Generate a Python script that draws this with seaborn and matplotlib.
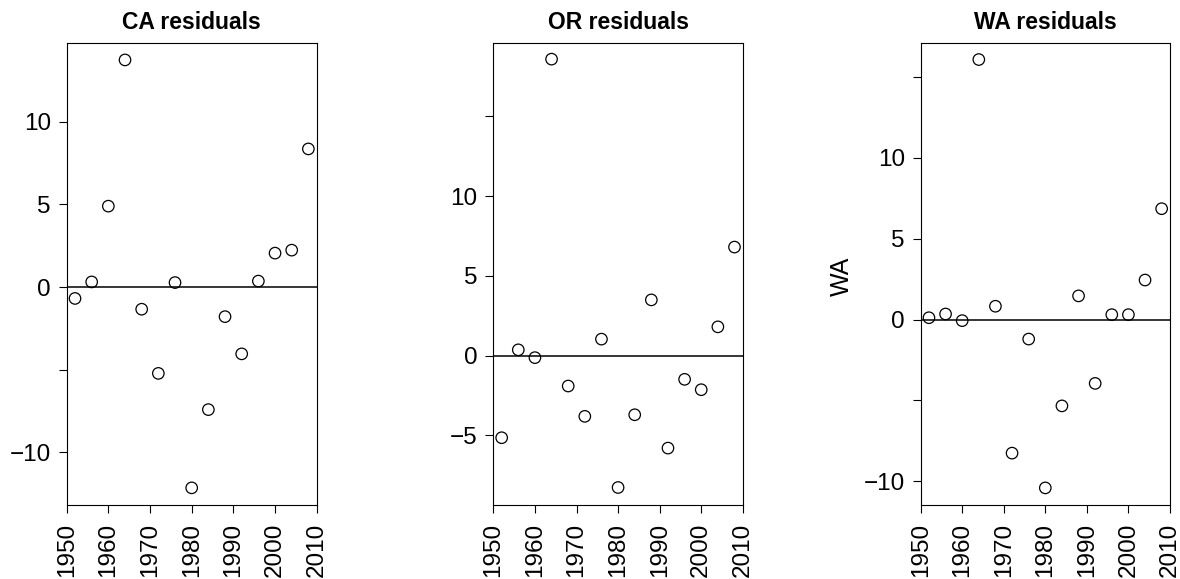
import numpy as np
import pandas as pd
import matplotlib
matplotlib.use("Agg")
import matplotlib.pyplot as plt
import seaborn as sns

# ---- data ----
years = [1952, 1956, 1960, 1964, 1968, 1972, 1976, 1980, 1984, 1988, 1992, 1996, 2000, 2004, 2008]
ca_resid = [-0.69, 0.31, 4.89, 13.73, -1.34, -5.22, 0.27, -12.14, -7.41, -1.79, -4.04, 0.36, 2.05, 2.23, 8.35]
or_resid = [-5.14, 0.37, -0.12, 18.59, -1.90, -3.80, 1.04, -8.26, -3.70, 3.50, -5.79, -1.48, -2.13, 1.81, 6.81]
wa_resid = [0.11, 0.34, -0.07, 16.07, 0.82, -8.26, -1.21, -10.41, -5.34, 1.46, -3.95, 0.30, 0.30, 2.44, 6.85]

titles = ["CA residuals", "OR residuals", "WA residuals"]
x_ticks = [1950, 1960, 1970, 1980, 1990, 2000, 2010]
ca_yticks = [-10, -5, 0, 5, 10]
ca_yticklabels = ["\u221210", "", "0", "5", "10"]
or_yticks = [-5, 0, 5, 10, 15]
or_yticklabels = ["\u22125", "0", "5", "10", ""]
wa_yticks = [-10, -5, 0, 5, 10, 15]
wa_yticklabels = ["\u221210", "", "0", "5", "10", ""]

sns.set_theme(style="ticks")
plt.rcParams["font.family"] = ["Liberation Sans", "DejaVu Sans"]

fig = plt.figure(figsize=(11.8, 5.79), dpi=100)
fig.patch.set_facecolor("white")

bottom, height = 0.128, 0.7985
lefts = [0.0565, 0.4181, 0.7802]
widths = [0.2119, 0.2114, 0.2113]
ylims = [(-13.17, 14.78), (-9.35, 19.63), (-11.46, 17.12)]
series = [ca_resid, or_resid, wa_resid]
yticks = [ca_yticks, or_yticks, wa_yticks]
yticklabels = [ca_yticklabels, or_yticklabels, wa_yticklabels]

for i in range(3):
    ax = fig.add_axes([lefts[i], bottom, widths[i], height])
    df = pd.DataFrame({"year": years, "resid": series[i]})
    sns.scatterplot(data=df, x="year", y="resid", ax=ax, marker="o", s=68,
                    facecolor="none", edgecolor="black", linewidth=0.9, color="black")
    for coll in ax.collections:
        coll.set_facecolor("none")
        coll.set_edgecolor("black")
    ax.axhline(0, color="black", lw=1.1)
    ax.set_xlim(1950, 2010)
    ax.set_ylim(*ylims[i])
    ax.set_xticks(x_ticks)
    ax.set_xticklabels([str(t) for t in x_ticks], rotation=90, fontsize=17.5)
    ax.set_yticks(yticks[i])
    ax.set_yticklabels(yticklabels[i], fontsize=17.5)
    ax.tick_params(axis="both", direction="out", length=5.8, width=0.8, color="black",
                   labelcolor="black")
    ax.tick_params(axis="y", pad=5.5)
    ax.tick_params(axis="x", pad=7)
    for sp in ax.spines.values():
        sp.set_visible(True)
        sp.set_color("black")
        sp.set_linewidth(0.8)
    ax.set_xlabel("")
    ax.set_ylabel("")
    ax.set_title(titles[i], fontsize=16.5, fontweight="bold", pad=10, color="black")
    if i == 2:
        ax.set_ylabel("WA", fontsize=18, color="black", va="center")
        ax.yaxis.set_label_coords(-0.316, 0.495)

fig.savefig("out.png", dpi=100, facecolor="white")
